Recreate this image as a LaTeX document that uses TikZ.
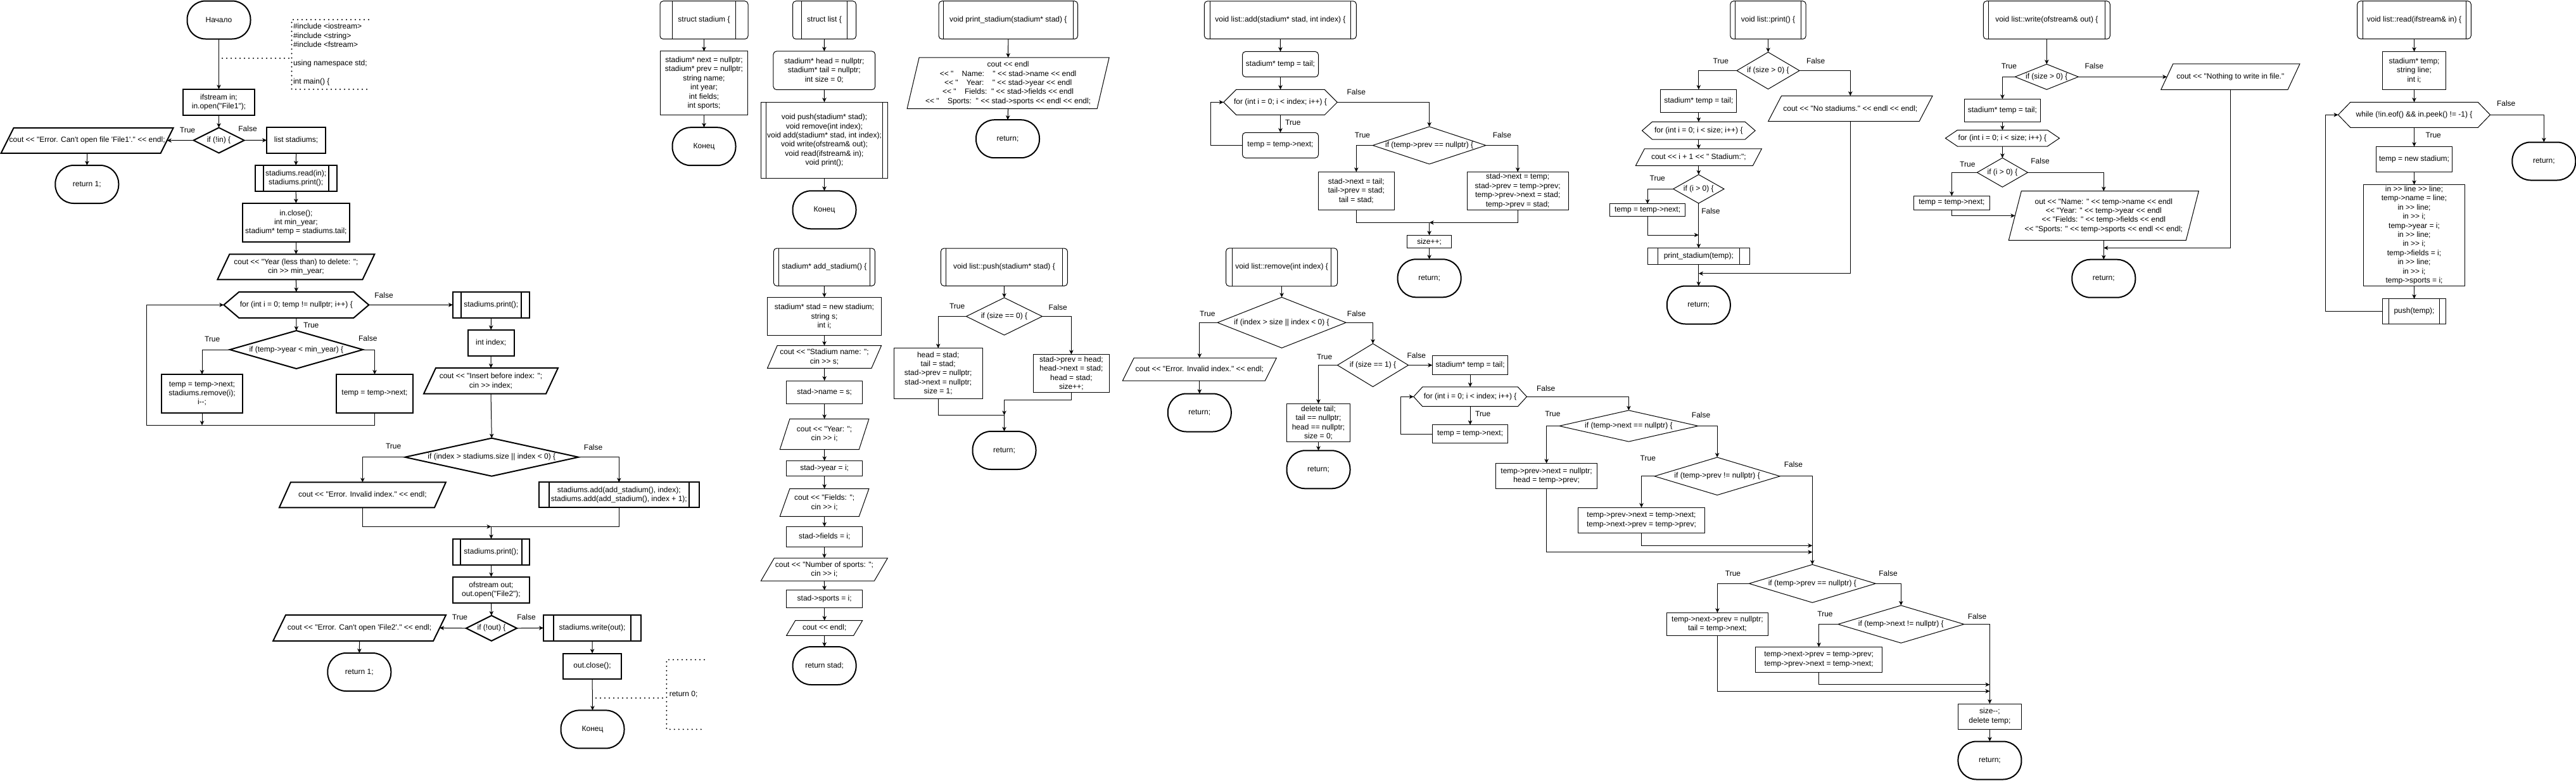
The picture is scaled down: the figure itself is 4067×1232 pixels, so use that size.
\documentclass[tikz,border=0pt]{standalone}
\usepackage{fontspec}
\newfontfamily\ff{Liberation Sans}
\usetikzlibrary{arrows.meta}
\newcommand\Para[8]{\node[box,minimum width=#5pt,minimum height=#6pt] (#2) at (#3,#4) {#8};
 \draw[shp,#1] ([xshift=#7pt]#2.north west) -- (#2.north east) -- ([xshift=-#7pt]#2.south east) -- (#2.south west) -- cycle;}
\newcommand\Hex[8]{\node[box,minimum width=#5pt,minimum height=#6pt] (#2) at (#3,#4) {#8};
 \draw[shp,#1] (#2.west) -- ([xshift=#7pt]#2.north west) -- ([xshift=-#7pt]#2.north east) -- (#2.east) -- ([xshift=-#7pt]#2.south east) -- ([xshift=#7pt]#2.south west) -- cycle;}
\newcommand\Dia[7]{\node[box,minimum width=#5pt,minimum height=#6pt] (#2) at (#3,#4) {#7};
 \draw[shp,#1] (#2.north) -- (#2.east) -- (#2.south) -- (#2.west) -- cycle;}
\begin{document}
\begin{tikzpicture}[x=1pt,y=-1pt,
 base/.style={font=\ff\fontsize{12}{14.4}\selectfont, align=center, inner sep=0pt, outer sep=0pt, text=black},
 box/.style={base, rectangle},
 proc/.style={base, rectangle, draw, line width=1pt},
 thk/.style={line width=2pt},
 rnd/.style={rounded corners=5pt},
 term/.style={base, rectangle, draw, line width=2pt, rounded corners=29pt, minimum width=100pt, minimum height=60pt},
 sub/.style={proc, path picture={\draw[line width=1pt] ([xshift=#1]path picture bounding box.north west) -- ([xshift=#1]path picture bounding box.south west) ([xshift=-#1]path picture bounding box.north east) -- ([xshift=-#1]path picture bounding box.south east);}},
 subT/.style={proc, line width=2pt, path picture={\draw[line width=2pt] ([xshift=#1]path picture bounding box.north west) -- ([xshift=#1]path picture bounding box.south west) ([xshift=-#1]path picture bounding box.north east) -- ([xshift=-#1]path picture bounding box.south east);}},
 shp/.style={line width=1pt, line join=miter},
 arr/.style={line width=1pt, -{Stealth[length=7pt,width=6.5pt,inset=2pt]}},
 ln/.style={line width=1pt},
 dots/.style={line width=2.2pt, line cap=round, dash pattern=on 0pt off 7pt},
 lbl/.style={base}]
\useasboundingbox (0,0) rectangle (4067,1232);
\fill[white] (0,0) rectangle (4067,1232);

% ================= MAIN =================
\node[term] (start) at (345.5,31.5) {Начало};
\draw[dots] (582,31) -- (460.5,31) -- (460.5,141) -- (582,141);
\node[base, anchor=west, align=left] (anntxt) at (463,86) {\#include <iostream>\\\#include <string>\\\#include <fstream>\\[14.4pt]using namespace std;\\[14.4pt]int main() \{};
\coordinate (annS) at (351,92); \coordinate (annE) at (460.5,92);
\draw[dots] (annS) -- (annE);
\node[proc, thk, minimum width=113pt, minimum height=41pt] (ifs) at (345.5,161.3) {ifstream in;\\in.open("File1");};
\Dia{thk}{d1}{345.5}{221.5}{80}{40}{if (!in) \{}
\Para{thk}{e1}{137.7}{221.8}{272}{40}{20}{cout << "Error. Can't open file 'File1'." << endl;}
\node[term] (r1) at (137.3,291) {return 1;};
\node[proc, thk, minimum width=93pt, minimum height=41pt] (ls) at (467.6,221.4) {list stadiums;};
\node[subT=13pt, minimum width=129pt, minimum height=41pt] (rp) at (467.2,281.5) {stadiums.read(in);\\stadiums.print();};
\node[proc, thk, minimum width=169pt, minimum height=61pt] (ic) at (467.4,351.3) {in.close();\\int min\_year;\\stadium* temp = stadiums.tail;};
\Para{thk}{yr}{467.4}{421.3}{248}{40}{19}{cout << "Year (less than) to delete: ";\\cin >> min\_year;}
\Hex{thk}{fr}{467.8}{481.4}{229}{41}{24}{for (int i = 0; temp != nullptr; i++) \{}
\Dia{thk}{d2}{467.9}{552}{210}{60}{if (temp->year < min\_year) \{}
\node[proc, thk, minimum width=128.6pt, minimum height=60.6pt] (bl) at (319,621.3) {temp = temp->next;\\stadiums.remove(i);\\i-{}-;};
\node[proc, thk, minimum width=120.8pt, minimum height=60.6pt] (br) at (591.5,621.3) {temp = temp->next;};
\node[subT=12.7pt, minimum width=120.7pt, minimum height=41.3pt] (sp) at (775.3,481.3) {stadiums.print();};
\node[proc, thk, minimum width=73pt, minimum height=41pt] (ii) at (775.2,541.2) {int index;};
\Para{thk}{ins}{775}{601.3}{212}{40.7}{19}{cout << "Insert before index: ";\\cin >> index;}
\Dia{thk}{d3}{776.3}{721.7}{274}{60}{if (index > stadiums.size || index < 0) \{}
\Para{thk}{e2}{572.4}{781.4}{263}{40}{18}{cout << "Error. Invalid index." << endl;}
\node[subT=16pt, minimum width=253pt, minimum height=40pt] (sa) at (977.3,781.4) {stadiums.add(add\_stadium(), index);\\stadiums.add(add\_stadium(), index + 1);};
\node[subT=12pt, minimum width=121pt, minimum height=41pt] (sp2) at (775.5,871.3) {stadiums.print();};
\node[proc, thk, minimum width=121pt, minimum height=41.5pt] (ofs) at (775.5,931.5) {ofstream out;\\out.open("File2");};
\Dia{thk}{d4}{776}{991.8}{80}{40}{if (!out) \{}
\Para{thk}{e3}{567.6}{991.4}{273}{41}{20}{cout << "Error. Can't open 'File2'." << endl;}
\node[term] (r2) at (567.3,1061) {return 1;};
\node[subT=16pt, minimum width=154pt, minimum height=41pt] (sw) at (935,991.4) {stadiums.write(out);};
\node[proc, thk, minimum width=92pt, minimum height=40pt] (oc) at (935.1,1051.5) {out.close();};
\node[term] (mend) at (935.5,1151.4) {Конец};
\draw[dots] (1112,1041.4) -- (1052.4,1041.4) -- (1052.4,1151.4) -- (1112,1151.4);
\node[base, anchor=west] (ret0) at (1056.8,1096) {return 0;};
\coordinate (ann2S) at (941,1102); \coordinate (ann2E) at (1052.4,1102);
\draw[dots] (ann2S) -- (ann2E);

\node[lbl] (t1) at (296,205.6) {True};
\node[lbl] (f1) at (391,203.6) {False};
\node[lbl] (f2) at (606,465.8) {False};
\node[lbl] (t2) at (491.3,513.2) {True};
\node[lbl] (t3) at (335.2,535.8) {True};
\node[lbl] (f3) at (580.8,533.8) {False};
\node[lbl] (t4) at (621.2,704) {True};
\node[lbl] (f4) at (936.6,706) {False};
\node[lbl] (t5) at (726,974) {True};
\node[lbl] (f5) at (831,974) {False};

\draw[arr] (start.south) -- (ifs.north);
\draw[arr] (ifs.south) -- (d1.north);
\draw[arr] (d1.west) -- ([xshift=-10pt]e1.east);
\draw[arr] (e1.south) -- (r1.north);
\draw[arr] (d1.east) -- (ls.west);
\draw[arr] (ls.south) -- (rp.north);
\draw[arr] (rp.south) -- (ic.north);
\draw[arr] (ic.south) -- (yr.north);
\draw[arr] (yr.south) -- (fr.north);
\draw[arr] (fr.east) -- (sp.west);
\draw[arr] (fr.south) -- (d2.north);
\draw[arr] (d2.west) -| (bl.north);
\draw[arr] (d2.east) -| (br.north);
\coordinate (lp) at (231.8,671.3);
\draw[arr] (br.south) |- (lp) |- (fr.west);
\draw[arr] (bl.south) -- (bl.south |- lp);
\draw[arr] (sp.south) -- (ii.north);
\draw[arr] (ii.south) -- (ins.north);
\draw[arr] (ins.south) -- (d3.north);
\draw[arr] (d3.west) -| (e2.north);
\draw[arr] (d3.east) -| (sa.north);
\coordinate (mg) at (775.5,831.4);
\draw[arr] (e2.south) |- (mg);
\draw[ln] (sa.south) |- (mg);
\draw[arr] (mg) -- (sp2.north);
\draw[arr] (sp2.south) -- (ofs.north);
\draw[arr] (ofs.south) -- (d4.north);
\draw[arr] (d4.west) -- ([xshift=-10pt]e3.east);
\draw[arr] (d4.east) -- (sw.west);
\draw[arr] (e3.south) -- (r2.north);
\draw[arr] (sw.south) -- (oc.north);
\draw[arr] (oc.south) -- (mend.north);

% ================= STRUCTS =================
\node[sub=19.4pt, rnd, minimum width=139pt, minimum height=60pt] (hs) at (1111.5,31.7) {struct stadium \{};
\node[proc, minimum width=138pt, minimum height=100.7pt] (cs) at (1111.5,131.3) {stadium* next = nullptr;\\stadium* prev = nullptr;\\string name;\\int year;\\int fields;\\int sports;};
\node[term] (es) at (1111.5,231.2) {Конец};
\draw[arr] (hs.south) -- (cs.north);
\draw[arr] (cs.south) -- (es.north);

\node[sub=13.8pt, rnd, minimum width=100pt, minimum height=60pt] (hl) at (1301.5,31.7) {struct list \{};
\node[proc, rnd, minimum width=160.7pt, minimum height=60.7pt] (cl) at (1301.3,111.3) {stadium* head = nullptr;\\stadium* tail = nullptr;\\int size = 0;};
\node[sub=8pt, minimum width=200pt, minimum height=120.3pt] (ml) at (1301.5,221.5) {void push(stadium* stad);\\void remove(int index);\\void add(stadium* stad, int index);\\void write(ofstream\& out);\\void read(ifstream\& in);\\void print();};
\node[term] (el) at (1301.5,331.3) {Конец};
\draw[arr] (hl.south) -- (cl.north);
\draw[arr] (cl.south) -- (ml.north);
\draw[arr] (ml.south) -- (el.north);

\node[sub=7pt, rnd, minimum width=219.4pt, minimum height=60pt] (hp) at (1591.8,31.7) {void print\_stadium(stadium* stad) \{};
\Para{}{pp}{1591.6}{131.3}{319}{80.7}{19}{cout << endl\\<< "\ \ \ \ Name:\ \ \ \ " << stad->name << endl\\<< "\ \ \ \ Year:\ \ \ \ " << stad->year << endl\\<< "\ \ \ \ Fields:\ \ " << stad->fields << endl\\<< "\ \ \ \ Sports:\ \ " << stad->sports << endl << endl;}
\node[term] (rps) at (1591,219.2) {return;};
\draw[arr] (hp.south) -- (pp.north);
\draw[arr] (pp.south) -- (rps.north);

% ================= ADD_STADIUM =================
\node[sub=7.6pt, rnd, minimum width=160pt, minimum height=59.4pt] (ha) at (1301.4,421.7) {stadium* add\_stadium() \{};
\node[proc, minimum width=180.3pt, minimum height=60.3pt] (a1) at (1301.5,499.5) {stadium* stad = new stadium;\\string s;\\int i;};
\Para{}{a2}{1301.5}{563.5}{180}{35.7}{15.6}{cout << "Stadium name: ";\\cin >> s;}
\node[proc, minimum width=120pt, minimum height=36.6pt] (a3) at (1301.7,619.3) {stad->name = s;};
\Para{}{a4}{1301.6}{685.4}{140.6}{48.2}{15.6}{cout << "Year: ";\\cin >> i;}
\node[proc, minimum width=120pt, minimum height=24pt] (a5) at (1301.7,739.4) {stad->year = i;};
\Para{}{a6}{1301.6}{793.4}{140.6}{43.8}{15.6}{cout << "Fields: ";\\cin >> i;}
\node[proc, minimum width=120pt, minimum height=32pt] (a7) at (1301.7,847.4) {stad->fields = i;};
\Para{}{a8}{1301.4}{899}{200}{36}{21}{cout << "Number of sports: ";\\cin >> i;}
\node[proc, minimum width=120pt, minimum height=27.7pt] (a9) at (1301.7,945.6) {stad->sports = i;};
\Para{}{a10}{1301.7}{991.4}{120}{23.7}{14}{cout << endl;}
\node[term] (ra) at (1301.6,1051) {return stad;};
\draw[arr] (ha.south) -- (a1.north);
\draw[arr] (a1.south) -- (a2.north);
\draw[arr] (a2.south) -- (a3.north);
\draw[arr] (a3.south) -- (a4.north);
\draw[arr] (a4.south) -- (a5.north);
\draw[arr] (a5.south) -- (a6.north);
\draw[arr] (a6.south) -- (a7.north);
\draw[arr] (a7.south) -- (a8.north);
\draw[arr] (a8.south) -- (a9.north);
\draw[arr] (a9.south) -- (a10.north);
\draw[arr] (a10.south) -- (ra.north);

% ================= PUSH =================
\node[sub=8pt, rnd, minimum width=200pt, minimum height=59.4pt] (hpu) at (1585.4,421.7) {void list::push(stadium* stad) \{};
\Dia{}{pd}{1585.5}{499.5}{120}{59}{if (size == 0) \{}
\node[proc, minimum width=139.7pt, minimum height=79.5pt] (pb1) at (1481.2,589.4) {head = stad;\\tail = stad;\\stad->prev = nullptr;\\stad->next = nullptr;\\size = 1;};
\node[proc, minimum width=120pt, minimum height=59.8pt] (pb2) at (1691.4,589.4) {stad->prev = head;\\head->next = stad;\\head = stad;\\size++;};
\node[term] (rpu) at (1585.5,711) {return;};
\node[lbl] (t6) at (1511.2,483.6) {True};
\node[lbl] (f6) at (1670.2,485.4) {False};
\draw[arr] (hpu.south) -- (pd.north);
\draw[arr] (pd.west) -| (pb1.north);
\draw[arr] (pd.east) -| (pb2.north);
\coordinate (pm) at (1585.5,655.4);
\draw[arr] (pb2.south) |- ([yshift=24pt]pm) -- (pm);
\draw[ln] (pb1.south) |- (pm);
\draw[arr] (pm) -- (rpu.north);

% ================= ADD =================
\node[sub=8.7pt, rnd, minimum width=240pt, minimum height=59.6pt] (had) at (2021.4,31.6) {void list::add(stadium* stad, int index) \{};
\node[proc, rnd, minimum width=120pt, minimum height=40pt] (ad1) at (2021.5,101.4) {stadium* temp = tail;};
\Hex{}{af}{2021.5}{161.4}{179.6}{40}{20}{for (int i = 0; i < index; i++) \{}
\node[proc, rnd, minimum width=120pt, minimum height=40pt] (ad2) at (2021.5,229.3) {temp = temp->next;};
\Dia{}{adif}{2256.6}{229.5}{178.6}{59}{if (temp->prev == nullptr) \{}
\node[proc, minimum width=119.4pt, minimum height=60pt] (ab1) at (2141.3,301.4) {stad->next = tail;\\tail->prev = stad;\\tail = stad;};
\node[proc, minimum width=160.2pt, minimum height=60pt] (ab2) at (2396.2,301.4) {stad->next = temp;\\stad->prev = temp->prev;\\temp->prev->next = stad;\\temp->prev = stad;};
\node[proc, minimum width=69.4pt, minimum height=20.4pt] (as) at (2256.6,381.6) {size++;};
\node[term] (rad) at (2256.6,439.3) {return;};
\node[lbl] (t7) at (2041.3,193.6) {True};
\node[lbl] (f7) at (2141.3,145.7) {False};
\node[lbl] (t8) at (2151,213.6) {True};
\node[lbl] (f8) at (2371.4,213.6) {False};
\draw[arr] (had.south) -- (ad1.north);
\draw[arr] (ad1.south) -- (af.north);
\draw[arr] (af.south) -- (ad2.north);
\draw[arr] (ad2.west) -- ++(-50.5,0) |- (af.west);
\draw[arr] (af.east) -| (adif.north);
\draw[arr] (adif.west) -| (ab1.north);
\draw[arr] (adif.east) -| (ab2.north);
\coordinate (am) at (2256.6,351.4);
\draw[ln] (ab1.south) |- (am);
\draw[arr] (ab2.south) |- (am);
\draw[arr] (am) -- (as.north);
\draw[arr] (as.south) -- (rad.north);

% ================= REMOVE =================
\node[sub=9.8pt, rnd, minimum width=176pt, minimum height=60pt] (hr) at (2023.6,421.8) {void list::remove(int index) \{};
\Dia{}{rd1}{2023.6}{509.3}{203}{80}{if (index > size || index < 0) \{}
\Para{}{re}{1893.8}{583}{243}{36}{18}{cout << "Error. Invalid index." << endl;}
\node[term] (rr1) at (1893.8,651.5) {return;};
\Dia{}{rd2}{2167.5}{576.5}{112}{68}{if (size == 1) \{}
\node[proc, minimum width=100pt, minimum height=60pt] (rb1) at (2081.5,667.3) {delete tail;\\tail == nullptr;\\head == nullptr;\\size = 0;};
\node[term] (rr2) at (2081.5,741.3) {return;};
\node[proc, minimum width=119.6pt, minimum height=29.3pt] (rt) at (2321.1,576.5) {stadium* temp = tail;};
\Hex{}{rf}{2321.1}{626.3}{178.6}{30.7}{14}{for (int i = 0; i < index; i++) \{}
\node[proc, minimum width=119.6pt, minimum height=29.3pt] (rn) at (2321.1,685.3) {temp = temp->next;};
\Dia{}{rd3}{2571.4}{672.5}{219.3}{49.3}{if (temp->next == nullptr) \{}
\node[proc, minimum width=159.6pt, minimum height=39.8pt] (rb2) at (2441.6,751.4) {temp->prev->next = nullptr;\\head = temp->prev;};
\Dia{}{rd4}{2711.1}{751.8}{198}{59.6}{if (temp->prev != nullptr) \{}
\node[proc, minimum width=199.8pt, minimum height=40.3pt] (rb3) at (2591.5,821.4) {temp->prev->next = temp->next;\\temp->next->prev = temp->prev;};
\Dia{}{rd5}{2861.3}{921.3}{199.8}{60}{if (temp->prev == nullptr) \{}
\node[proc, minimum width=160.8pt, minimum height=36pt] (rb4) at (2711.4,985.2) {temp->next->prev = nullptr;\\tail = temp->next;};
\Dia{}{rd6}{3001.3}{985.5}{199}{59.3}{if (temp->next != nullptr) \{}
\node[proc, minimum width=199.8pt, minimum height=40pt] (rb5) at (2871.6,1041.5) {temp->next->prev = temp->prev;\\temp->prev->next = temp->next;};
\node[proc, minimum width=100.2pt, minimum height=40pt] (rs) at (3141.4,1131) {size-{}-;\\delete temp;};
\node[term] (rr3) at (3141.4,1200.5) {return;};
\node[lbl] (t9) at (1906.3,495.7) {True};
\node[lbl] (f9) at (2141.6,495.7) {False};
\node[lbl] (t10) at (2091.2,563.7) {True};
\node[lbl] (f10) at (2236.3,561) {False};
\node[lbl] (f11) at (2440.7,613.3) {False};
\node[lbl] (t11) at (2341.2,653.3) {True};
\node[lbl] (t12) at (2451.4,653.4) {True};
\node[lbl] (f12) at (2685.6,655.2) {False};
\node[lbl] (t13) at (2601.8,723.7) {True};
\node[lbl] (f13) at (2831.4,733.6) {False};
\node[lbl] (t14) at (2736,905.5) {True};
\node[lbl] (f14) at (2981,905.5) {False};
\node[lbl] (t15) at (2881.5,969.6) {True};
\node[lbl] (f15) at (3121.5,973.6) {False};
\draw[arr] (hr.south) -- (rd1.north);
\draw[arr] (rd1.west) -| (re.north);
\draw[arr] (re.south) -- (rr1.north);
\draw[arr] (rd1.east) -| (rd2.north);
\draw[arr] (rd2.west) -| (rb1.north);
\draw[arr] (rb1.south) -- (rr2.north);
\draw[arr] (rd2.east) -- (rt.west);
\draw[arr] (rt.south) -- (rf.north);
\draw[arr] (rf.south) -- (rn.north);
\draw[arr] (rn.west) -- ++(-50,0) |- (rf.west);
\draw[arr] (rf.east) -| (rd3.north);
\draw[arr] (rd3.west) -| (rb2.north);
\draw[arr] (rd3.east) -| (rd4.north);
\draw[arr] (rd4.west) -| (rb3.north);
\draw[arr] (rd4.east) -| (rd5.north);
\draw[arr] (rb3.south) |- ([yshift=30pt]rd5.north);
\draw[arr] (rb2.south) |- ([yshift=19.7pt]rd5.north);
\draw[arr] (rd5.west) -| (rb4.north);
\draw[arr] (rd5.east) -| (rd6.north);
\draw[arr] (rd6.west) -| (rb5.north);
\draw[arr] (rd6.east) -| (rs.north);
\draw[arr] (rb5.south) |- ([yshift=30.2pt]rs.north);
\draw[arr] (rb4.south) |- ([yshift=19.8pt]rs.north);
\draw[arr] (rs.south) -- (rr3.north);

% ================= PRINT =================
\node[sub=7.7pt, rnd, minimum width=119.3pt, minimum height=60pt] (hpr) at (2791.5,31.7) {void list::print() \{};
\Dia{}{pd1}{2791.5}{111.5}{99}{58.3}{if (size > 0) \{}
\node[proc, minimum width=120pt, minimum height=36pt] (pt) at (2681.8,159.3) {stadium* temp = tail;};
\Hex{}{pf}{2681.8}{206.2}{178.6}{27.7}{16}{for (int i = 0; i < size; i++) \{}
\Para{}{pc}{2681.8}{248.3}{199}{26.7}{14}{cout << i + 1 << " Stadium:";}
\Dia{}{pd2}{2681.8}{298.3}{80.3}{45.3}{if (i > 0) \{}
\node[proc, minimum width=119.2pt, minimum height=20pt] (pn) at (2601.1,331.7) {temp = temp->next;};
\node[sub=16pt, minimum width=160.7pt, minimum height=25.6pt] (ps) at (2681.8,404.5) {print\_stadium(temp);};
\Para{}{pno}{2921.3}{171.5}{259.5}{40.4}{21}{cout << "No stadiums." << endl << endl;}
\node[term] (rpr) at (2681.8,481.5) {return;};
\node[lbl] (t16) at (2716.8,96) {True};
\node[lbl] (f16) at (2866.7,96) {False};
\node[lbl] (t17) at (2616.7,281) {True};
\node[lbl] (f17) at (2700.9,333.3) {False};
\draw[arr] (hpr.south) -- (pd1.north);
\draw[arr] (pd1.west) -| (pt.north);
\draw[arr] (pt.south) -- (pf.north);
\draw[arr] (pf.south) -- (pc.north);
\draw[arr] (pc.south) -- (pd2.north);
\draw[arr] (pd2.west) -| (pn.north);
\draw[arr] (pn.south) |- ([yshift=20.7pt]ps.north);
\draw[arr] (pd2.south) -- (ps.north);
\draw[arr] (ps.south) -- (rpr.north);
\draw[arr] (pd1.east) -| (pno.north);
\draw[arr] (pno.south) |- ([yshift=19.7pt]rpr.north);

% ================= WRITE =================
\node[sub=8pt, rnd, minimum width=200pt, minimum height=60pt] (hw) at (3231.3,31.7) {void list::write(ofstream\& out) \{};
\Dia{}{wd1}{3231.3}{121.3}{100}{40}{if (size > 0) \{}
\node[proc, minimum width=120pt, minimum height=36pt] (wt) at (3161.4,174.3) {stadium* temp = tail;};
\Hex{}{wf}{3161.4}{218.2}{180}{25.7}{19}{for (int i = 0; i < size; i++) \{}
\Dia{}{wd2}{3161.4}{272.3}{80}{46}{if (i > 0) \{}
\node[proc, minimum width=120pt, minimum height=22pt] (wn) at (3081.4,320.3) {temp = temp->next;};
\Para{}{wo}{3321.3}{340.5}{300}{77.6}{20}{out << "Name: " << temp->name << endl\\<< "Year: " << temp->year << endl\\<< "Fields: " << temp->fields << endl\\<< "Sports: " << temp->sports << endl << endl;}
\node[term] (rw) at (3321.3,439.7) {return;};
\Para{}{wno}{3521.3}{121.3}{219.2}{40.7}{19}{cout << "Nothing to write in file."}
\node[lbl] (t18) at (3171.9,104) {True};
\node[lbl] (f18) at (3306.3,104) {False};
\node[lbl] (t19) at (3106.3,259.3) {True};
\node[lbl] (f19) at (3221,254) {False};
\draw[arr] (hw.south) -- (wd1.north);
\draw[arr] (wd1.west) -| (wt.north);
\draw[arr] (wt.south) -- (wf.north);
\draw[arr] (wf.south) -- (wd2.north);
\draw[arr] (wd2.west) -| (wn.north);
\draw[arr] (wn.south) |- ([xshift=10pt]wo.west);
\draw[arr] (wd2.east) -| (wo.north);
\draw[arr] (wo.south) -- (rw.north);
\draw[arr] (wd1.east) -- ([xshift=9.5pt]wno.west);
\draw[arr] (wno.south) |- ([yshift=18.3pt]rw.north);

% ================= READ =================
\node[sub=8.3pt, rnd, minimum width=179.6pt, minimum height=59.6pt] (hrd) at (3811.5,31.5) {void list::read(ifstream\& in) \{};
\node[proc, minimum width=100.4pt, minimum height=59.6pt] (q1) at (3811.5,111.4) {stadium* temp;\\string line;\\int i;};
\Hex{}{q2}{3811.5}{181.3}{240}{40}{19.3}{while (!in.eof() \&\& in.peek() != -1) \{}
\node[term] (q3) at (4016.3,254.5) {return;};
\node[proc, minimum width=120pt, minimum height=40pt] (q4) at (3811.5,251.4) {temp = new stadium;};
\node[proc, minimum width=160pt, minimum height=159.4pt] (q5) at (3811.5,371.4) {in >> line >> line;\\temp->name = line;\\in >> line;\\in >> i;\\temp->year = i;\\in >> line;\\in >> i;\\temp->fields = i;\\in >> line;\\in >> i;\\temp->sports = i;};
\node[sub=10.3pt, minimum width=100.4pt, minimum height=39.6pt] (q6) at (3811.5,491.6) {push(temp);};
\node[lbl] (f20) at (3956.7,163.6) {False};
\node[lbl] (t20) at (3841.7,213.5) {True};
\draw[arr] (hrd.south) -- (q1.north);
\draw[arr] (q1.south) -- (q2.north);
\draw[arr] (q2.east) -| (q3.north);
\draw[arr] (q2.south) -- (q4.north);
\draw[arr] (q4.south) -- (q5.north);
\draw[arr] (q5.south) -- (q6.north);
\draw[arr] (q6.west) -- ++(-89.6,0) |- (q2.west);
\end{tikzpicture}
\end{document}
